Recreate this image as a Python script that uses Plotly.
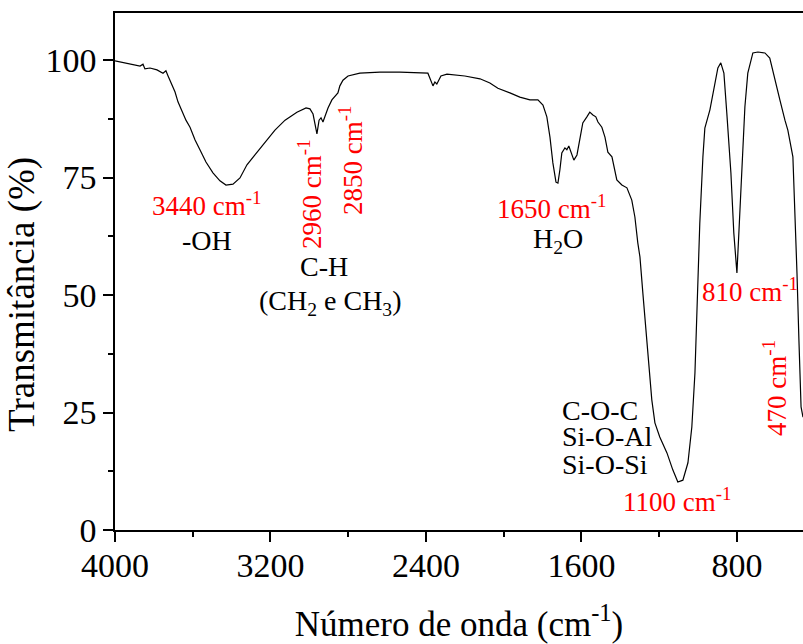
import plotly.graph_objects as go

# FTIR spectrum: wavenumber (cm-1) and transmittance (%)
wavenumber = [
    4000, 3949, 3907, 3871, 3856, 3846, 3820, 3784, 3753, 3738, 3727, 3707,
    3691, 3676, 3666, 3650, 3635, 3614, 3588, 3563, 3532, 3496, 3460, 3429,
    3393, 3357, 3321, 3280, 3228, 3177, 3125, 3064, 3017, 2997, 2981, 2971,
    2961, 2950, 2940, 2930, 2920, 2904, 2884, 2863, 2853, 2843, 2827, 2801,
    2740, 2637, 2534, 2390, 2374, 2364, 2354, 2344, 2323, 2292, 2200, 2122,
    2071, 2030, 1968, 1917, 1865, 1824, 1798, 1778, 1762, 1747, 1731, 1721,
    1711, 1701, 1685, 1675, 1665, 1649, 1639, 1623, 1608, 1593, 1572, 1557,
    1541, 1526, 1515, 1495, 1479, 1464, 1443, 1418, 1392, 1366, 1341, 1325,
    1310, 1299, 1284, 1268, 1258, 1238, 1222, 1197, 1160, 1130, 1104, 1078,
    1052, 1032, 1016, 1006, 991, 975, 965, 939, 914, 898, 883, 867, 852, 831,
    816, 800, 790, 775, 759, 744, 718, 692, 656, 631, 605, 579, 553, 538, 512,
    502, 491, 481, 470, 460,
]
transmittance = [
    99.8, 99.4, 99.1, 98.7, 99.1, 98.1, 98.3, 97.9, 97.2, 97.7, 96.6, 94.5,
    93.2, 91.1, 90.2, 88.9, 87.2, 85.7, 83.0, 80.9, 78.3, 76.0, 74.3, 73.4,
    73.6, 74.9, 77.7, 79.8, 82.6, 85.1, 87.2, 88.9, 89.8, 89.6, 88.5, 86.4,
    84.3, 87.2, 87.7, 86.8, 88.1, 89.8, 91.5, 92.6, 93.0, 94.5, 95.7, 96.6,
    97.2, 97.4, 97.4, 97.2, 95.7, 94.5, 95.3, 94.9, 96.6, 97.0, 96.6, 96.0,
    95.1, 94.0, 93.0, 92.1, 91.5, 91.5, 90.4, 87.9, 83.6, 78.1, 74.0, 73.8,
    76.6, 80.2, 81.3, 80.9, 81.7, 79.8, 78.7, 79.8, 83.6, 86.6, 87.9, 88.9,
    88.3, 87.9, 86.8, 85.7, 83.6, 80.4, 79.4, 74.5, 73.4, 72.8, 70.2, 66.6,
    61.1, 58.1, 50.4, 42.6, 36.2, 27.7, 22.8, 19.8, 16.4, 12.8, 10.2, 10.6,
    14.3, 21.9, 33.4, 47.4, 65.3, 79.4, 85.5, 89.4, 95.1, 98.3, 99.4, 97.2,
    88.7, 76.0, 63.2, 54.7, 63.2, 77.2, 90.0, 97.2, 101.5, 101.7, 101.5,
    100.4, 95.7, 91.5, 87.2, 85.1, 79.4, 68.7, 54.7, 40.4, 26.2, 24.0,
]

x_ticks = [4000, 3200, 2400, 1600, 800]
y_ticks = [0, 25, 50, 75, 100]

# band labels: (text, x, y, angle, colour, anchor)
RED = "#ff0000"
band_labels = [
    ("3440 cm<sup>-1</sup>", 3527, 69.4, 0, RED, "center"),
    ("2960 cm<sup>-1</sup>", 2997, 71.5, -90, RED, "center"),
    ("2850 cm<sup>-1</sup>", 2786, 78.7, -90, RED, "center"),
    ("1650 cm<sup>-1</sup>", 1752, 68.7, 0, RED, "center"),
    ("1100 cm<sup>-1</sup>", 1109, 6.4, 0, RED, "center"),
    ("810 cm<sup>-1</sup>", 733, 51.0, 0, RED, "center"),
    ("470 cm<sup>-1</sup>", 605, 30.2, -90, RED, "center"),
]
group_labels = [
    ("-OH", 3527, 61.7, "center"),
    ("C-H", 2925, 56.0, "center"),
    ("(CH<sub>2</sub> e CH<sub>3</sub>)", 2894, 48.5, "center"),
    ("H<sub>2</sub>O", 1721, 61.7, "center"),
    ("C-O-C", 1711, 25.5, "left"),
    ("Si-O-Al", 1711, 19.8, "left"),
    ("Si-O-Si", 1711, 14.0, "left"),
]

FONT = "Liberation Serif"

fig = go.Figure()
fig.add_trace(go.Scatter(
    x=wavenumber, y=transmittance, mode="lines",
    line=dict(color="black", width=1.2), showlegend=False,
))

for text, x, y, ang, col, anchor in band_labels:
    fig.add_annotation(x=x, y=y, xref="x", yref="y", text=text, showarrow=False,
                       textangle=ang, xanchor=anchor, yanchor="middle",
                       font=dict(family=FONT, size=27, color=col))
for text, x, y, anchor in group_labels:
    fig.add_annotation(x=x, y=y, xref="x", yref="y", text=text, showarrow=False,
                       xanchor=anchor, yanchor="middle",
                       font=dict(family=FONT, size=28, color="black"))

# y-axis title, placed a little below the axis centre
fig.add_annotation(x=-0.135, y=0.455, xref="paper", yref="paper",
                   text="Transmitância (%)", showarrow=False, textangle=-90,
                   xanchor="center", yanchor="middle",
                   font=dict(family=FONT, size=37, color="black"))

fig.update_layout(
    width=803, height=644,
    margin=dict(l=115, r=0, t=13, b=114),
    paper_bgcolor="white", plot_bgcolor="white",
    font=dict(family=FONT, size=34, color="black"),
)
fig.update_xaxes(
    range=[4000, 460], tickvals=x_ticks, ticktext=[str(v) for v in x_ticks],
    showgrid=False, zeroline=False,
    showline=True, linecolor="black", linewidth=1.5, mirror=True,
    ticks="outside", ticklen=10, tickwidth=1.5, tickcolor="black",
    minor=dict(dtick=400, tick0=0, ticks="outside", ticklen=5, tickwidth=1.5,
               tickcolor="black", showgrid=False),
    tickfont=dict(family=FONT, size=34), ticklabelstandoff=-6,
    title=dict(text="Número de onda (cm<sup>-1</sup>)",
               font=dict(family=FONT, size=35), standoff=32),
)
fig.update_yaxes(
    range=[0, 110], tickvals=y_ticks, ticktext=[str(v) for v in y_ticks],
    showgrid=False, zeroline=False,
    showline=True, linecolor="black", linewidth=1.5,
    ticks="outside", ticklen=10, tickwidth=1.5, tickcolor="black",
    minor=dict(dtick=12.5, tick0=0, ticks="outside", ticklen=5, tickwidth=1.5,
               tickcolor="black", showgrid=False),
    tickfont=dict(family=FONT, size=34),
)

fig.write_html("out.html")
